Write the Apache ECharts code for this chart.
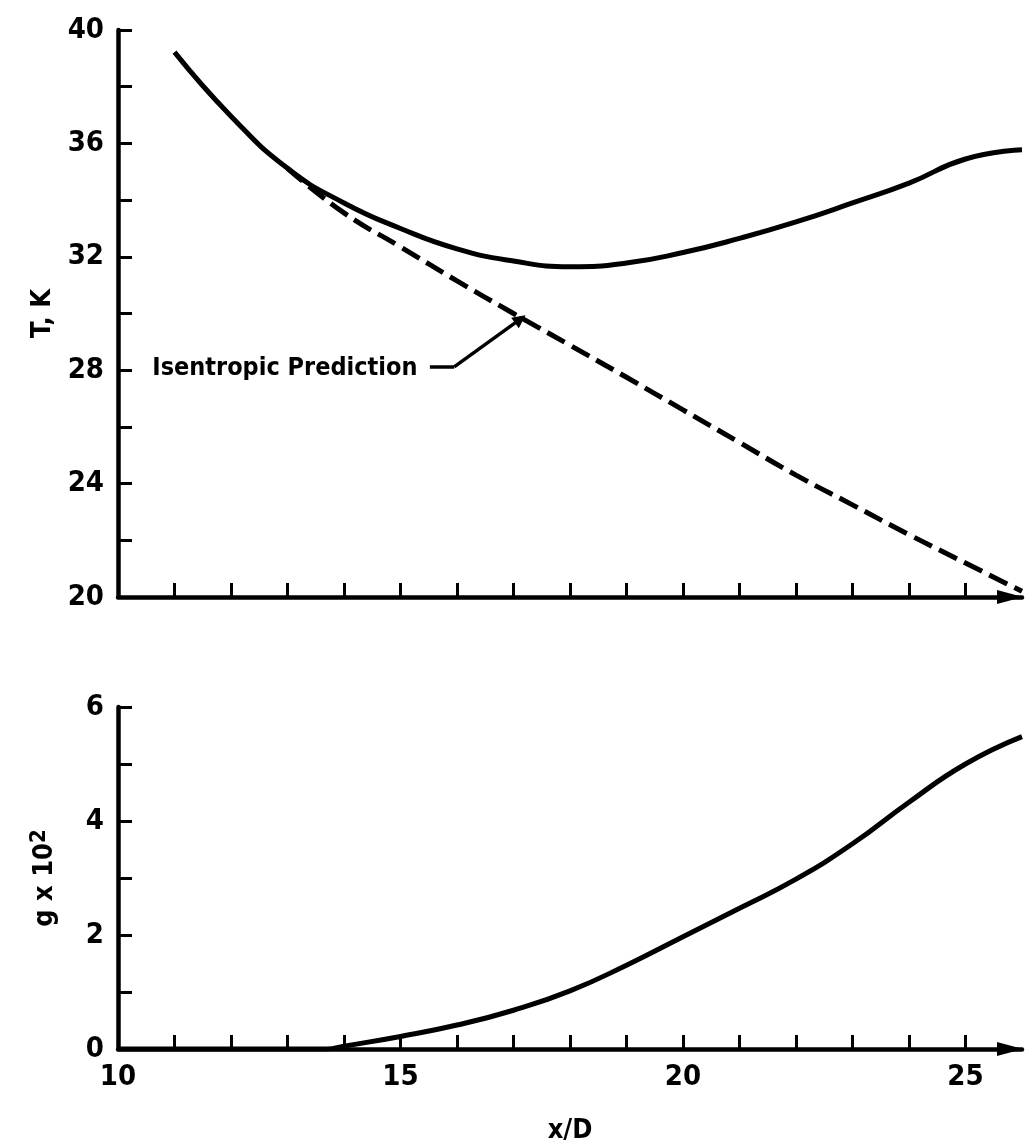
<!DOCTYPE html>
<html><head><meta charset="utf-8">
<script src="https://cdn.jsdelivr.net/npm/echarts@6/dist/echarts.min.js"></script>
<style>html,body{margin:0;padding:0;background:#fff}#c{width:1030px;height:1148px}</style>
</head><body><div id="c"></div>
<script>
// ---- data ----
const xTickValues = [11,12,13,14,15,16,17,18,19,20,21,22,23,24,25];
const xLabelValues = [10,15,20,25];
const tTickValues = [22,24,26,28,30,32,34,36,38,40];
const tLabelValues = [20,24,28,32,36,40];
const gTickValues = [1,2,3,4,5,6];
const gLabelValues = [0,2,4,6];

const measX = [11,12,13,14,15,16,17,18,19,20,21,22,23,24,25,26];
const measT = [39.22,36.96,35.12,33.9,33.0,32.28,31.85,31.65,31.78,32.15,32.65,33.23,33.9,34.6,35.45,35.78];

const isenX = [13,14,15,16,17,18,19,20,21,22,23,24,25,26];
const isenT = [35.12,33.55,32.35,31.15,30.0,28.88,27.75,26.6,25.45,24.3,23.25,22.2,21.2,20.2];

const gX = [10,11,12,13,13.7,14,15,16,17,18,19,20,21,22,23,24,25,26];
const gV = [0,0,0,0,0,0.05,0.22,0.42,0.68,1.02,1.47,1.97,2.47,2.98,3.6,4.33,5.0,5.48];

const annText = 'Isentropic Prediction';
const annTextAt = [15.3, 28.05];
const annStart = [15.52, 28.12];
const annBend = [15.95, 28.12];
const annTip = [17.12, 29.8];

// ---- chart ----
const FONT = "'DejaVu Sans Condensed', sans-serif";
const zip = (a,b)=>a.map((v,i)=>[v,b[i]]);
const txt = {color:'#000', fontFamily:FONT, fontWeight:'bold', fontSize:29};

function xAx(grid, labels){
  return {
    type:'value', gridIndex:grid, min:10, max:26,
    axisLine:{show:true, symbol:['none','triangle'], symbolSize:[14,26], symbolOffset:[0,-12],
      lineStyle:{color:'#000', width:4.5}},
    axisTick:{show:true, inside:true, length:14, lineStyle:{color:'#000', width:3}, customValues:xTickValues},
    axisLabel:labels ? Object.assign({show:true, margin:14, customValues:xLabelValues}, txt) : {show:false},
    splitLine:{show:false}
  };
}
function yAx(grid, min, max, ticks, labels, name){
  return {
    type:'value', gridIndex:grid, min:min, max:max,
    axisLine:{show:true, lineStyle:{color:'#000', width:4.5}},
    axisTick:{show:true, inside:true, length:14, lineStyle:{color:'#000', width:3}, customValues:ticks},
    axisLabel:Object.assign({show:true, margin:14, customValues:labels}, txt),
    splitLine:{show:false},
    name:name, nameLocation:'middle', nameRotate:90, nameGap:56,
    nameTextStyle:Object.assign({}, txt, {fontSize:27, rich:{a:Object.assign({},txt,{fontSize:27}), s:Object.assign({},txt,{fontSize:22, verticalAlign:'top', padding:[0,0,12,0]})}})
  };
}

const chart = echarts.init(document.getElementById('c'));
chart.setOption({
  animation:false,
  backgroundColor:'#fff',
  grid:[
    {left:118, right:8, top:30, height:567},
    {left:118, right:8, top:707, height:342}
  ],
  xAxis:[
    xAx(0,false),
    Object.assign(xAx(1,true), {name:'x/D', nameLocation:'middle', nameGap:68, nameTextStyle:Object.assign({}, txt, {fontSize:27})})
  ],
  yAxis:[
    yAx(0,20,40,tTickValues,tLabelValues,'T, K'),
    yAx(1,0,6,gTickValues,gLabelValues,'{a|g x 10}{s|2}')
  ],
  series:[
    {type:'line', xAxisIndex:0, yAxisIndex:0, data:zip(measX,measT), smooth:0.5, symbol:'none',
     lineStyle:{color:'#000', width:5}},
    {type:'line', xAxisIndex:0, yAxisIndex:0, data:zip(isenX,isenT), smooth:0.5, symbol:'none',
     lineStyle:{color:'#000', width:5, type:[20,8]},
     markLine:{silent:true, symbolSize:13, lineStyle:{color:'#000', width:3.5, type:'solid'}, label:{show:false},
       data:[
         [{coord:annStart, symbol:'none'},{coord:annBend, symbol:'none'}],
         [{coord:annBend, symbol:'none'},{coord:annTip, symbol:'triangle'}]
       ]},
     markPoint:{silent:true, symbol:'circle', symbolSize:0,
       label:Object.assign({show:true, position:'left', distance:0, formatter:annText}, txt, {fontSize:25}),
       data:[{coord:annTextAt}]}
    },
    {type:'line', xAxisIndex:1, yAxisIndex:1, data:zip(gX,gV), smooth:0.5, symbol:'none',
     lineStyle:{color:'#000', width:5}}
  ]
});
</script>
</body></html>
